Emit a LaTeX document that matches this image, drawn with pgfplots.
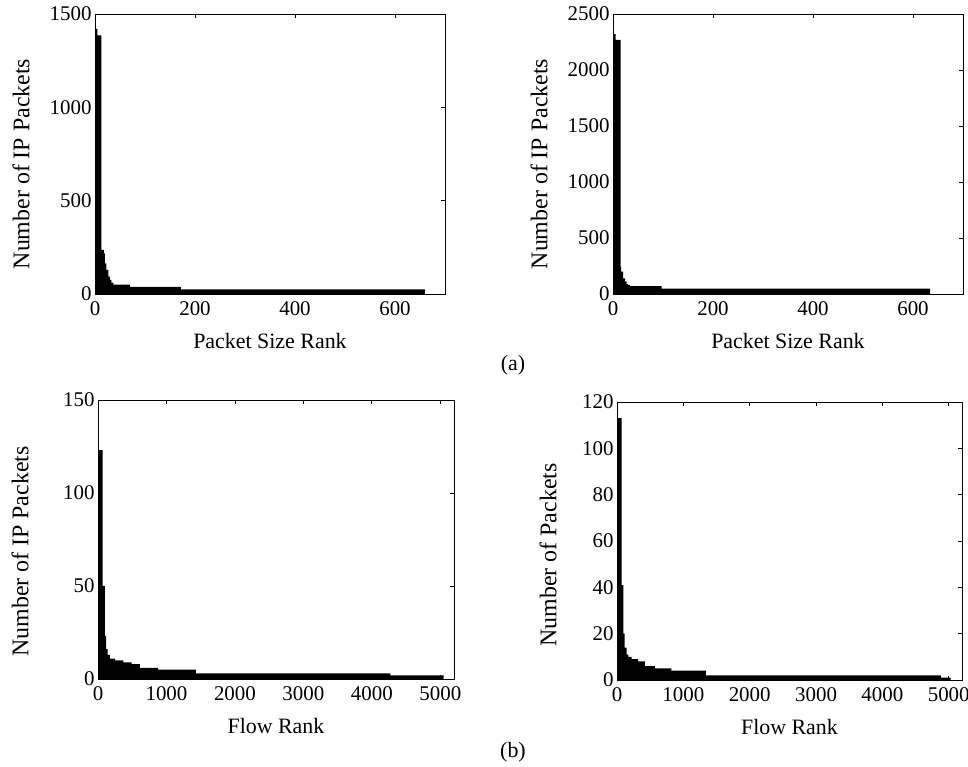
\documentclass[border=0pt]{standalone}
\usepackage{pgfplots}
\pgfplotsset{compat=1.18}
\usepackage{fontspec}
\setmainfont{Liberation Serif}

\pgfplotsset{
  rankplot/.style={
    scale only axis,
    axis on top,
    ymin=0, xmin=0,
    axis line style={line width=0.8pt},
    tick style={line width=0.8pt, black},
    major tick length=4bp,
    tick align=inside,
    /pgf/number format/assume math mode=true,
    /pgf/number format/1000 sep={},
    scaled ticks=false,
    tick label style={font=\fontsize{21}{24}\selectfont},
    x tick label style={yshift=-4bp},
    every axis x label/.style={at={([yshift=-47bp]rel axis cs:0.5,0)}, anchor=center,
      font=\fontsize{22}{24}\selectfont},
    every axis y label/.style={at={([xshift=-74bp,yshift=-10bp]rel axis cs:0,0.5)}, rotate=90, anchor=center,
      font=\fontsize{24}{26}\selectfont},
    anchor=south west,
  },
}

\begin{document}
\begin{tikzpicture}
\useasboundingbox (0,0) rectangle (968bp,767bp);

% (a) left
\begin{axis}[rankplot, at={(95bp,473bp)}, width=350bp, height=280bp,
    xmax=700, ymax=1500,
    xtick={0,200,400,600}, ytick={0,500,1000,1500},
    xlabel={Packet Size Rank}, ylabel={Number of IP Packets}]
\addplot[const plot, fill=black, draw=none] coordinates {
 (0,1420)(5,1385)(13,236)(18,218)(20,164)(23,129)(27,93)(30,75)(33,61)(37,50)(70,38)(172,25)(660,25)
} \closedcycle;
\end{axis}

% (a) right
\begin{axis}[rankplot, at={(613bp,473bp)}, width=350bp, height=280bp,
    xmax=700, ymax=2500,
    xtick={0,200,400,600}, ytick={0,500,1000,1500,2000,2500},
    xlabel={Packet Size Rank}, ylabel={Number of IP Packets}]
\addplot[const plot, fill=black, draw=none] coordinates {
 (0,2320)(5,2270)(15,244)(16,199)(20,140)(24,110)(27,89)(30,80)(34,71)(97,48)(634,48)
} \closedcycle;
\end{axis}

% (b) left
\begin{axis}[rankplot, at={(98bp,88bp)}, width=356bp, height=279bp,
    xmax=5200, ymax=150,
    xtick={0,1000,2000,3000,4000,5000}, ytick={0,50,100,150},
    xlabel={Flow Rank}, ylabel={Number of IP Packets},
    every axis y label/.append style={at={([xshift=-78bp,yshift=-12bp]rel axis cs:0,0.5)}}]
\addplot[const plot, fill=black, draw=none] coordinates {
 (0,123)(68,50)(102,23)(120,16)(140,13)(175,11)(250,10)(370,9)(490,8)(610,6)(880,5)(1430,3)(4270,2)(5050,2)
} \closedcycle;
\end{axis}

% (b) right
\begin{axis}[rankplot, at={(617bp,87bp)}, width=345bp, height=278bp,
    xmax=5200, ymax=120,
    xtick={0,1000,2000,3000,4000,5000}, ytick={0,20,40,60,80,100,120},
    xlabel={Flow Rank}, ylabel={Number of  Packets},
    every axis y label/.append style={at={([xshift=-69bp,yshift=-14bp]rel axis cs:0,0.5)}}]
\addplot[const plot, fill=black, draw=none] coordinates {
 (0,113)(70,41)(95,20)(115,14)(145,11)(170,10)(220,9)(320,8)(420,6)(570,5)(820,4)(1340,2)(4880,1)(5030,1)
} \closedcycle;
\end{axis}

\node[font=\fontsize{22}{24}\selectfont] at (513bp,402bp) {(a)};
\node[font=\fontsize{22}{24}\selectfont] at (513bp,15bp) {(b)};
\end{tikzpicture}
\end{document}
